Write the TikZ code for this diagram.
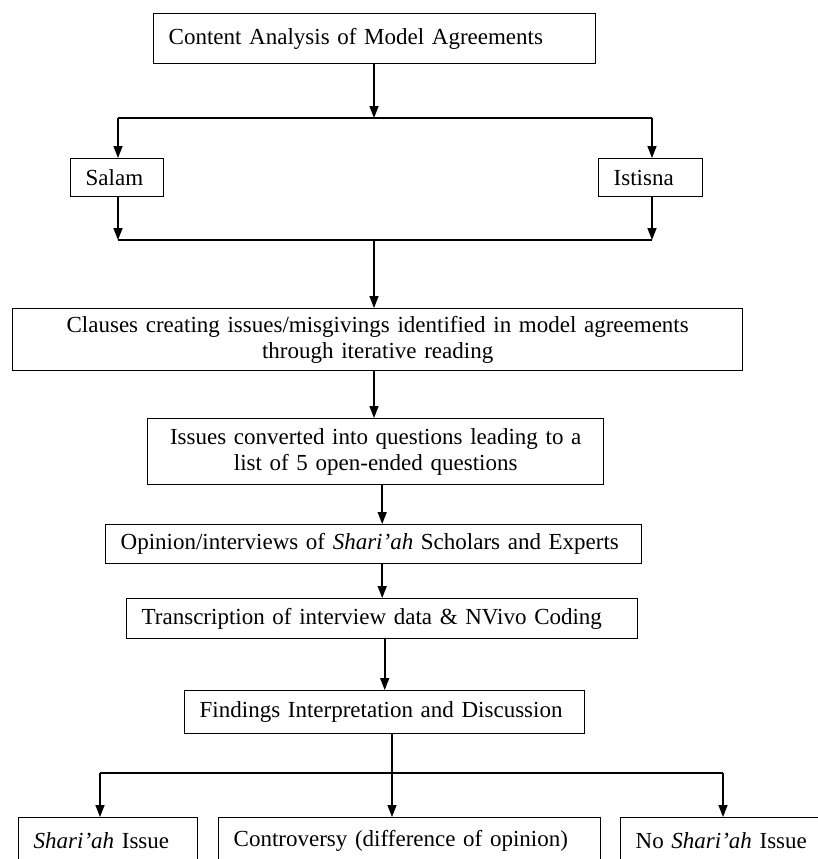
\documentclass[tikz,border=0pt]{standalone}
\usepackage{fontspec}
\setmainfont{Liberation Serif}
\usetikzlibrary{arrows.meta}

\tikzset{
  box/.style={draw, line width=0.7pt, anchor=north west, inner xsep=7.5pt, inner ysep=0pt,
    align=left, font=\fontsize{11.5}{13}\selectfont},
  arr/.style={-{Triangle[length=6pt,width=4.5pt]}, line width=0.8pt},
  link/.style={line width=0.8pt},
}

\begin{document}
\begin{tikzpicture}[x=0.5pt, y=-0.5pt]
  \useasboundingbox (0,0) rectangle (818,859);

  % Boxes
  \node[box, text width=206pt, minimum height=25pt] (content) at (153,13) {Content Analysis of Model Agreements};
  \node[box, text width=31.5pt, minimum height=19pt] (salam) at (70,158) {Salam};
  \node[box, text width=37pt, minimum height=19pt] (istisna) at (598,158) {Istisna};
  \node[box, text width=350pt, minimum height=31pt, align=center] (clauses) at (12,308)
    {Clauses creating issues/misgivings identified in model agreements\\ through iterative reading};
  \node[box, text width=213pt, minimum height=33pt, align=center] (issues) at (147,418)
    {Issues converted into questions leading to a\\ list of 5 open-ended questions};
  \node[box, text width=253pt, minimum height=19.5pt] (opinion) at (105,524) {Opinion/interviews of \textit{Shari’ah} Scholars and Experts};
  \node[box, text width=240.5pt, minimum height=20pt] (transcription) at (126,598) {Transcription of interview data \& NVivo Coding};
  \node[box, text width=185pt, minimum height=21.5pt] (findings) at (184,690) {Findings Interpretation and Discussion};
  \node[box, text width=74.5pt, minimum height=23pt] (shariah) at (18,817) {\textit{Shari’ah} Issue};
  \node[box, text width=176pt, minimum height=23pt] (controversy) at (218,817) {Controversy (difference of opinion)};
  \node[box, text width=90pt, minimum height=23pt] (noshariah) at (620,817) {No \textit{Shari’ah} Issue};

  % Split into Salam / Istisna
  \coordinate (split) at (374,118);
  \coordinate (splitL) at (118,118);
  \coordinate (splitR) at (652,118);
  \draw[arr] (split |- content.south) -- (split);
  \draw[link] (splitL) -- (splitR);
  \draw[arr] (splitL) -- (splitL |- salam.north);
  \draw[arr] (splitR) -- (splitR |- istisna.north);

  % Merge
  \coordinate (merge) at (374,240);
  \coordinate (mergeL) at (118,240);
  \coordinate (mergeR) at (652,240);
  \draw[arr] (mergeL |- salam.south) -- (mergeL);
  \draw[arr] (mergeR |- istisna.south) -- (mergeR);
  \draw[link] (mergeL) -- (mergeR);
  \draw[arr] (merge) -- (merge |- clauses.north);

  % Main chain
  \draw[arr] (merge |- clauses.south) -- (merge |- issues.north);
  \draw[arr] (transcription.north |- issues.south) -- (transcription.north |- opinion.north);
  \draw[arr] (transcription.north |- opinion.south) -- (transcription.north);
  \draw[arr] (findings.north |- transcription.south) -- (findings.north);

  % Outcomes
  \coordinate (split2) at (392,773);
  \coordinate (split2L) at (100,773);
  \coordinate (split2R) at (723,773);
  \draw[link] (split2L) -- (split2R);
  \draw[arr] (split2 |- findings.south) -- (split2 |- controversy.north);
  \draw[arr] (split2L) -- (split2L |- shariah.north);
  \draw[arr] (split2R) -- (split2R |- noshariah.north);
\end{tikzpicture}
\end{document}
